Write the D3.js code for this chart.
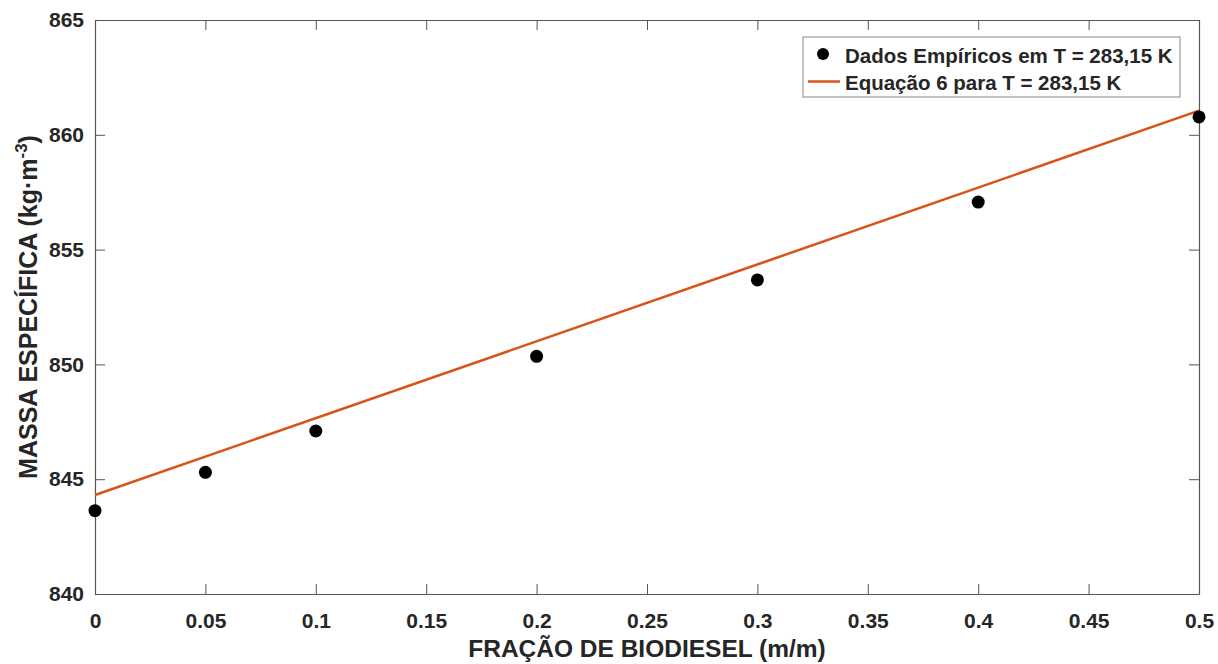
<!DOCTYPE html>
<html>
<head>
<meta charset="utf-8">
<script src="https://cdn.jsdelivr.net/npm/d3@7"></script>
<style>
  body { margin: 0; background: #fff; }
  text { font-family: "Liberation Sans", Arial, sans-serif; font-weight: bold; fill: #262626; }
</style>
</head>
<body>
<svg width="1218" height="664"></svg>
<script>
// data
var fracoes = [0, 0.05, 0.1, 0.2, 0.3, 0.4, 0.5];
var massas = [843.63, 845.3, 847.1, 850.35, 853.68, 857.07, 860.78];
// equation 6 line, end points
var eqX = [0, 0.5];
var eqY = [844.31, 861.05];
var xTicks = [0, 0.05, 0.1, 0.15, 0.2, 0.25, 0.3, 0.35, 0.4, 0.45, 0.5];
var yTicks = [840, 845, 850, 855, 860, 865];

var svg = d3.select("svg");
var margins = { top: 20, bottom: 70, left: 95, right: 19 };
var width = +svg.attr("width") - margins.left - margins.right;
var height = +svg.attr("height") - margins.top - margins.bottom;

var x = d3.scaleLinear().domain([0, 0.5]).range([0, width]);
var y = d3.scaleLinear().domain([840, 865]).range([height, 0]);

var g = svg.append("g").attr("transform", `translate(${margins.left},${margins.top})`);

var axisColor = "#555";
var fmt = function (d) { return String(d); };

// axes, ticks pointing inward
var xAxis = g.append("g").attr("transform", `translate(0,${height})`)
    .call(d3.axisBottom(x).tickValues(xTicks).tickFormat(fmt).tickSizeInner(-10).tickSizeOuter(0).tickPadding(19));
var xTop = g.append("g")
    .call(d3.axisTop(x).tickValues(xTicks).tickFormat("").tickSizeInner(-10).tickSizeOuter(0));
var yAxis = g.append("g")
    .call(d3.axisLeft(y).tickValues(yTicks).tickFormat(fmt).tickSizeInner(-10).tickSizeOuter(0).tickPadding(11));
var yRight = g.append("g").attr("transform", `translate(${width},0)`)
    .call(d3.axisRight(y).tickValues(yTicks).tickFormat("").tickSizeInner(-10).tickSizeOuter(0));

[xAxis, xTop, yAxis, yRight].forEach(function (a) {
    a.select(".domain").attr("stroke", axisColor).attr("stroke-width", 1.2);
    a.selectAll(".tick line").attr("stroke", axisColor);
    a.selectAll("text").attr("font-size", 21).attr("fill", "#262626")
        .attr("font-family", "'Liberation Sans', Arial, sans-serif").attr("font-weight", "bold");
});

// fitted line
var line = d3.line().x(function (d) { return x(d[0]); }).y(function (d) { return y(d[1]); });
g.append("path")
    .datum(d3.zip(eqX, eqY))
    .attr("d", line)
    .attr("fill", "none")
    .attr("stroke", "#D95319")
    .attr("stroke-width", 2.5);

// empirical points
g.selectAll("circle.pt").data(d3.zip(fracoes, massas)).enter().append("circle")
    .attr("class", "pt")
    .attr("cx", function (d) { return x(d[0]); })
    .attr("cy", function (d) { return y(d[1]); })
    .attr("r", 6.5)
    .attr("fill", "#000");

// axis titles
svg.append("text")
    .attr("x", margins.left + width / 2).attr("y", 657)
    .attr("text-anchor", "middle").attr("font-size", 24.5)
    .text("FRAÇÃO DE BIODIESEL (m/m)");

var yt = svg.append("text")
    .attr("transform", `translate(37,${margins.top + height / 2}) rotate(-90)`)
    .attr("text-anchor", "middle").attr("font-size", 25);
yt.append("tspan").text("MASSA ESPECÍFICA (kg·m");
yt.append("tspan").attr("dy", -10).attr("font-size", 17).text("-3");
yt.append("tspan").attr("dy", 10).text(")");

// legend
var lg = svg.append("g").attr("transform", "translate(803,37)");
lg.append("rect").attr("width", 377).attr("height", 60)
    .attr("fill", "#fff").attr("stroke", "#888").attr("stroke-width", 1);
lg.append("circle").attr("cx", 20).attr("cy", 17).attr("r", 6).attr("fill", "#000");
lg.append("line").attr("x1", 5).attr("x2", 37).attr("y1", 44.5).attr("y2", 44.5)
    .attr("stroke", "#D95319").attr("stroke-width", 2.5);
lg.append("text").attr("x", 42).attr("y", 25.5).attr("font-size", 20.5)
    .text("Dados Empíricos em T = 283,15 K");
lg.append("text").attr("x", 42).attr("y", 53).attr("font-size", 20.5)
    .text("Equação 6 para T = 283,15 K");
</script>
</body>
</html>
